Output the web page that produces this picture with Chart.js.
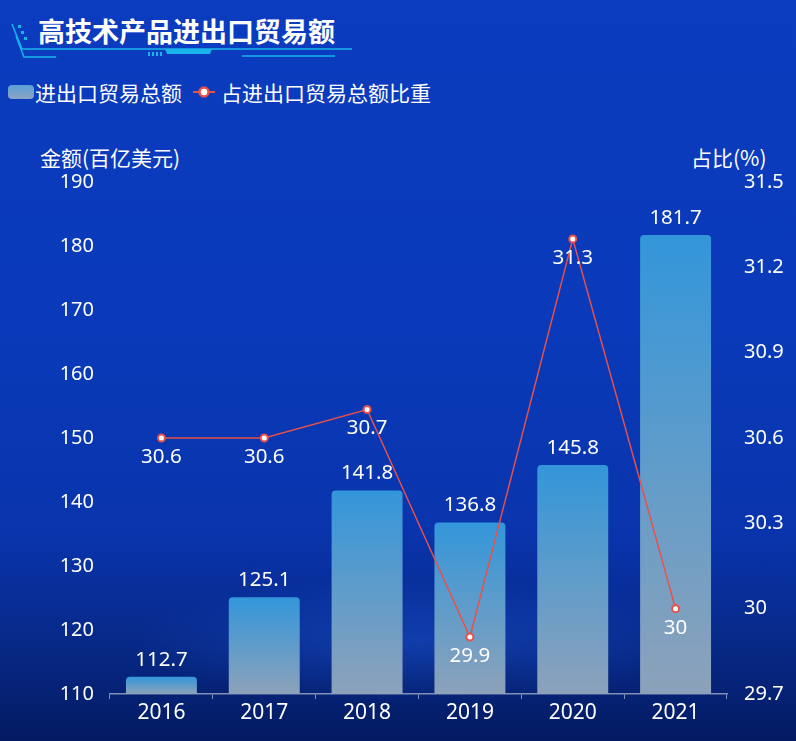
<!DOCTYPE html>
<html>
<head>
<meta charset="utf-8">
<script src="https://cdn.jsdelivr.net/npm/chart.js@4.4.1/dist/chart.umd.min.js"></script>
<style>
  html,body{margin:0;padding:0;}
  body{width:796px;height:741px;overflow:hidden;position:relative;
    background:
      radial-gradient(ellipse 420px 90px at 420px 640px, rgba(40,110,255,0.30), rgba(40,110,255,0) 70%),
      linear-gradient(180deg,#0b3cbf 0%,#0a3ab9 45%,#0934ac 72%,#072a8c 85%,#041b62 100%);
    font-family:"Noto Sans","Noto Sans CJK SC",sans-serif;color:#fff;}
  #c{position:absolute;left:0;top:0;}
  .t{position:absolute;white-space:nowrap;}
  #title{left:38px;top:11px;font-size:27px;font-weight:bold;font-family:"Noto Sans CJK SC",sans-serif;}
  #leg1{left:35px;top:77px;font-size:21px;font-family:"Noto Sans CJK SC",sans-serif;}
  #leg2{left:221px;top:77px;font-size:21px;font-family:"Noto Sans CJK SC",sans-serif;}
  #box1{position:absolute;left:8px;top:85px;width:26px;height:14px;border-radius:4px;background:linear-gradient(180deg,#5aa0d8,#8aa4c4);}
  #yl{left:40px;top:142px;font-size:21px;font-family:"Noto Sans CJK SC",sans-serif;}
  #yr{left:691px;top:142px;font-size:21px;font-family:"Noto Sans CJK SC",sans-serif;}
</style>
</head>
<body>
<svg width="796" height="741" style="position:absolute;left:0;top:0" xmlns="http://www.w3.org/2000/svg">
  <g stroke="#1ab4ec" fill="none" stroke-width="1.5">
    <polyline points="12,24 22,49 352,49"/>
    <polyline points="16,36 24,57 56,57"/>
    <line x1="242" y1="56" x2="335" y2="56"/>
  </g>
  <polygon points="165,49 212,49 210,54 167,54" fill="#1ab4ec"/>
  <g fill="#1ab4ec">
    <rect x="148" y="52" width="2" height="4"/><rect x="152" y="52" width="2" height="4"/>
    <rect x="156" y="52" width="2" height="4"/><rect x="160" y="52" width="2" height="4"/>
    <rect x="18" y="25" width="3" height="3"/><rect x="21" y="31" width="3" height="3"/>
    <rect x="24" y="37" width="3" height="3"/>
  </g>
</svg>
<div class="t" id="title">高技术产品进出口贸易额</div>
<div id="box1"></div>
<div class="t" id="leg1">进出口贸易总额</div>
<svg width="30" height="20" style="position:absolute;left:190px;top:83px" xmlns="http://www.w3.org/2000/svg">
  <line x1="3" y1="9" x2="25" y2="9" stroke="#e8504a" stroke-width="2"/>
  <circle cx="14" cy="9" r="4.5" fill="#fff" stroke="#e8504a" stroke-width="2.5"/>
</svg>
<div class="t" id="leg2">占进出口贸易总额比重</div>
<div class="t" id="yl">金额(百亿美元)</div>
<div class="t" id="yr">占比(%)</div>
<canvas id="c" width="796" height="741"></canvas>
<script>
const categories = ["2016","2017","2018","2019","2020","2021"];
const tradeTotal = [112.7,125.1,141.8,136.8,145.8,181.7];
const tradeShare = [30.6,30.6,30.7,29.9,31.3,30];
const seriesNames = ["进出口贸易总额","占进出口贸易总额比重"];

const FONT = '"Noto Sans","Noto Sans CJK SC",sans-serif';

const labelPlugin = {
  id:'valueLabels',
  afterDatasetsDraw(chart){
    const ctx = chart.ctx;
    ctx.save();
    ctx.fillStyle = '#ffffff';
    ctx.font = '20.5px ' + FONT;
    ctx.textAlign = 'center';
    ctx.textBaseline = 'middle';
    const barMeta = chart.getDatasetMeta(1);
    barMeta.data.forEach((el,i)=>{
      ctx.fillText(String(tradeTotal[i]), el.x, el.y - 17);
    });
    const lineMeta = chart.getDatasetMeta(0);
    lineMeta.data.forEach((el,i)=>{
      ctx.fillText(String(tradeShare[i]), el.x, el.y + 19);
    });
    ctx.restore();
  }
};

new Chart(document.getElementById('c'),{
  data:{
    labels:categories,
    datasets:[
      {
        type:'line', label:seriesNames[1], data:tradeShare, yAxisID:'y1', order:0,
        borderColor:'#e8504a', borderWidth:1.5, tension:0,
        pointRadius:3.5, pointBorderWidth:2, pointBackgroundColor:'#ffffff', pointBorderColor:'#e8504a'
      },
      {
        type:'bar', label:seriesNames[0], data:tradeTotal, yAxisID:'y', order:1,
        barPercentage:0.69, categoryPercentage:1,
        borderRadius:{topLeft:4,topRight:4,bottomLeft:0,bottomRight:0}, borderSkipped:'bottom',
        backgroundColor(ctx){
          const chart = ctx.chart; const area = chart.chartArea;
          if(!area || ctx.dataIndex===undefined) return '#4a9ad6';
          const yTop = chart.scales.y.getPixelForValue(tradeTotal[ctx.dataIndex]);
          const g = chart.ctx.createLinearGradient(0,yTop,0,area.bottom);
          g.addColorStop(0,'#3396da');
          g.addColorStop(1,'#8da2ba');
          return g;
        }
      }
    ]
  },
  options:{
    responsive:false, animation:false,
    layout:{padding:{left:0,right:0,top:182,bottom:0}},
    plugins:{legend:{display:false},tooltip:{enabled:false}},
    scales:{
      x:{
        offset:true,
        grid:{offset:true, drawOnChartArea:false, drawTicks:true, tickLength:5, color:'#7f8fb5'},
        border:{display:true,color:'#7f8fb5',width:1.5},
        ticks:{color:'#ffffff',font:{size:21,family:FONT},padding:1},
        afterFit(s){s.height=47;}
      },
      y:{
        position:'left', min:110, max:190,
        ticks:{stepSize:10,color:'#ffffff',font:{size:20,family:FONT},padding:8},
        grid:{display:false}, border:{display:false},
        afterFit(s){s.width=110;}
      },
      y1:{
        position:'right', min:29.7, max:31.5,
        ticks:{stepSize:0.3,color:'#ffffff',font:{size:20,family:FONT},padding:9,
          callback:v=>String(Math.round(v*10)/10)},
        grid:{display:false}, border:{display:false},
        afterFit(s){s.width=69;}
      }
    }
  },
  plugins:[labelPlugin]
});
</script>
</body>
</html>
